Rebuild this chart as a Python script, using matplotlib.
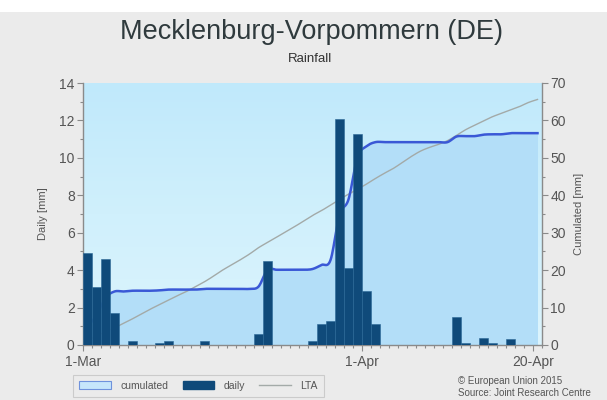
import numpy as np
import matplotlib
matplotlib.use("Agg")
import matplotlib.pyplot as plt
from matplotlib.patches import Patch, Rectangle
from matplotlib.lines import Line2D
from matplotlib.colors import LinearSegmentedColormap

plt.rcParams['font.family'] = ['Liberation Sans', 'DejaVu Sans']

# Daily rainfall, 1 March .. 20 April (mm)
daily = [4.9, 3.1, 4.6, 1.7, 0.0, 0.2, 0.0, 0.0, 0.1, 0.2,
         0.0, 0.0, 0.0, 0.2, 0.0, 0.0, 0.0, 0.0, 0.0, 0.6,
         4.5, 0.0, 0.0, 0.0, 0.0, 0.2, 1.1, 1.3, 12.1, 4.1,
         11.3, 2.9, 1.1, 0.0, 0.0, 0.0, 0.0, 0.0, 0.0, 0.0,
         0.0, 1.5, 0.1, 0.0, 0.4, 0.1, 0.0, 0.3, 0.0, 0.0,
         0.0]

# Long-term average of cumulated rainfall (mm)
lta = [1.2, 2.4, 3.6, 4.6, 5.8, 7.0, 8.3, 9.6, 10.8, 12.0,
       13.2, 14.3, 15.6, 16.9, 18.4, 20.0, 21.4, 22.8, 24.3, 26.0,
       27.4, 28.8, 30.2, 31.6, 33.1, 34.6, 35.9, 37.4, 38.9, 40.3,
       41.6, 43.0, 44.5, 45.9, 47.2, 48.8, 50.4, 51.8, 52.8, 53.6,
       54.6, 56.0, 57.5, 58.7, 59.9, 61.0, 61.9, 62.8, 63.7, 64.8,
       65.6]

date_ticks = [0, 31, 50]
date_labels = ['1-Mar', '1-Apr', '20-Apr']

daily = np.array(daily)
lta = np.array(lta)
cumulated = np.cumsum(daily)
days = np.arange(len(daily)) + 0.5


def catmull_rom(x, y, n=12):
    """Smooth curve through the points (uniform Catmull-Rom)."""
    xp = np.concatenate([[2 * x[0] - x[1]], x, [2 * x[-1] - x[-2]]])
    yp = np.concatenate([[2 * y[0] - y[1]], y, [2 * y[-1] - y[-2]]])
    xs, ys = [], []
    t = np.linspace(0, 1, n, endpoint=False)
    for i in range(1, len(xp) - 2):
        for arr, out in ((xp, xs), (yp, ys)):
            p0, p1, p2, p3 = arr[i - 1], arr[i], arr[i + 1], arr[i + 2]
            out.extend(0.5 * ((2 * p1) + (-p0 + p2) * t
                              + (2 * p0 - 5 * p1 + 4 * p2 - p3) * t ** 2
                              + (-p0 + 3 * p1 - 3 * p2 + p3) * t ** 3))
    xs.append(x[-1]); ys.append(y[-1])
    return np.array(xs), np.array(ys)


fig = plt.figure(figsize=(6.07, 4.0), dpi=100, facecolor='#ebebeb')
fig.patches.append(Rectangle((0, 1 - 12 / 400), 1, 12 / 400, transform=fig.transFigure,
                             facecolor='white', edgecolor='none', zorder=0))

rect = [83 / 607, 55 / 400, (542 - 83) / 607, (345 - 83) / 400]
ax2 = fig.add_axes(rect)   # cumulated scale (right)
ax = fig.add_axes(rect, sharex=ax2)  # daily scale (left), drawn on top
ax.patch.set_visible(False)

# background gradient
grad = LinearSegmentedColormap.from_list('bg', ['#dcf4fd', '#d0f0fc', '#c0e9fb'])
ax2.imshow(np.linspace(0, 1, 256).reshape(-1, 1), cmap=grad, origin='lower',
           extent=[0, 1, 0, 1], transform=ax2.transAxes, aspect='auto', zorder=0)

cx, cy = catmull_rom(days, cumulated)
ax2.fill_between(cx, 0, cy, color='#b3def8', zorder=1, linewidth=0)
lx, ly = catmull_rom(days, lta)
ax2.plot(lx, ly, color='#a3aaa8', lw=1.0, zorder=2)
ax2.plot(cx, cy, color='#3a58d6', lw=1.8, zorder=3)

ax.bar(days, daily, width=0.9, color='#0f4a7a', edgecolor='#2a6796', linewidth=0.4, zorder=4)

ax.set_xlim(0, 51)
ax.set_ylim(0, 14)
ax2.set_ylim(0, 70)

grey = '#555555'
spine_c = '#8a8a8a'
for a in (ax, ax2):
    for s in a.spines.values():
        s.set_visible(False)
ax.spines['left'].set_visible(True)
ax.spines['bottom'].set_visible(True)
ax2.spines['right'].set_visible(True)
for s in (ax.spines['left'], ax.spines['bottom'], ax2.spines['right']):
    s.set_color(spine_c)
    s.set_linewidth(1.0)

ax.set_yticks(np.arange(0, 15, 2))
ax.set_yticks(np.arange(1, 14, 2), minor=True)
ax2.yaxis.tick_right()
ax2.yaxis.set_label_position('right')
ax2.set_yticks(np.arange(0, 71, 10))
ax2.set_yticks(np.arange(5, 70, 10), minor=True)
ax.set_xticks(date_ticks)
ax.set_xticklabels(date_labels)
ax.set_xticks(np.arange(0, 52), minor=True)
ax2.tick_params(axis='x', which='both', bottom=False, labelbottom=False)

ax.tick_params(axis='both', which='major', colors=spine_c, labelcolor=grey,
               labelsize=10, length=4, width=0.8, pad=2)
ax.tick_params(axis='both', which='minor', colors=spine_c, length=2.5, width=0.8)
ax2.tick_params(axis='y', which='major', colors=spine_c, labelcolor=grey,
                labelsize=10, length=4, width=0.8, pad=2)
ax2.tick_params(axis='y', which='minor', colors=spine_c, length=2.5, width=0.8)
ax.tick_params(axis='x', which='major', pad=3)

ax.set_ylabel('Daily [mm]', fontsize=8, color=grey, labelpad=8)
ax2.set_ylabel('Cumulated [mm]', fontsize=8, color=grey, rotation=90, labelpad=6)

fig.text(0.513, 0.92, 'Mecklenburg-Vorpommern (DE)', ha='center', va='center',
         fontsize=19.5, color='#2f3a3d')
fig.text(0.511, 0.852, 'Rainfall', ha='center', va='center', fontsize=9.5, color='#333333')

handles = [Patch(facecolor='#c6e6fb', edgecolor='#6f92dc', linewidth=0.8),
           Patch(facecolor='#0f4a7a', edgecolor='#0f4a7a'),
           Line2D([], [], color='#a3aaa8', lw=1.0)]
leg = fig.legend(handles, ['cumulated', 'daily', 'LTA'], loc='center left',
                 bbox_to_anchor=(68 / 607, 1 - 386 / 400), ncol=3, fontsize=7.5,
                 frameon=True, fancybox=False, handlelength=3.0, handleheight=0.8,
                 handletextpad=0.9, columnspacing=1.4, borderpad=0.6,
                 labelcolor=grey)
leg.get_frame().set_facecolor('#ececec')
leg.get_frame().set_edgecolor('#c4c4c4')
leg.get_frame().set_linewidth(0.8)

fig.text(458 / 607, 1 - 381 / 400, '\u00a9 European Union 2015', ha='left', va='center',
         fontsize=7, color=grey)
fig.text(458 / 607, 1 - 393 / 400, 'Source: Joint Research Centre', ha='left', va='center',
         fontsize=7, color=grey)

fig.savefig('out.png', dpi=100, facecolor=fig.get_facecolor())
